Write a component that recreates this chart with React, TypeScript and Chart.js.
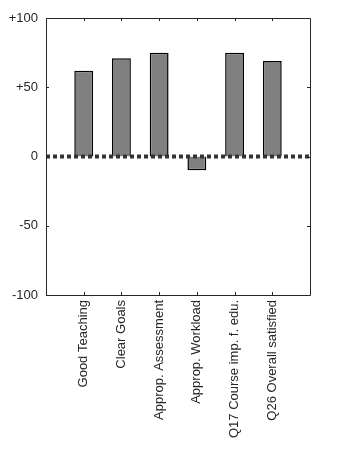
import React, { useEffect, useRef } from "react";
import { Chart, registerables } from "chart.js";

Chart.register(...registerables);

const categories = [
  "",
  "Good Teaching",
  "Clear Goals",
  "Approp. Assessment",
  "Approp. Workload",
  "Q17 Course imp. f. edu.",
  "Q26 Overall satisfied",
  "",
];
const scores: (number | null)[] = [null, 62, 71, 75, -10, 75, 69, null];
const zeroLine = [0, 0, 0, 0, 0, 0, 0, 0];
const yTicks = [-100, -50, 0, 50, 100];
const yTickLabels: Record<string, string> = {
  "-100": "-100",
  "-50": "-50",
  "0": "0",
  "50": "+50",
  "100": "+100",
};

const FONT = "'Liberation Sans', Arial, sans-serif";
const AXIS_COLOR = "#262626";

const framePlugin = {
  id: "frame",
  afterDraw(chart: any) {
    const { ctx, chartArea } = chart;
    const { left, right, top, bottom } = chartArea;
    const xs = chart.scales.x;
    const ys = chart.scales.y;
    ctx.save();
    ctx.strokeStyle = AXIS_COLOR;
    ctx.lineWidth = 1;
    ctx.beginPath();
    ctx.rect(Math.round(left) + 0.5, Math.round(top) + 0.5, Math.round(right - left), Math.round(bottom - top));
    ctx.stroke();
    const tl = 3;
    ctx.beginPath();
    categories.forEach((c, i) => {
      if (!c) return;
      const x = Math.round(xs.getPixelForValue(i)) + 0.5;
      ctx.moveTo(x, bottom);
      ctx.lineTo(x, bottom - tl);
      ctx.moveTo(x, top);
      ctx.lineTo(x, top + tl);
    });
    yTicks.forEach((v) => {
      const y = Math.round(ys.getPixelForValue(v)) + 0.5;
      ctx.moveTo(left, y);
      ctx.lineTo(left + tl, y);
      ctx.moveTo(right, y);
      ctx.lineTo(right - tl, y);
    });
    ctx.stroke();
    ctx.restore();
  },
};

export default function App() {
  const ref = useRef<HTMLCanvasElement>(null);
  useEffect(() => {
    if (!ref.current) return;
    const chart = new Chart(ref.current, {
      type: "bar",
      data: {
        labels: categories,
        datasets: [
          {
            type: "line",
            data: zeroLine,
            borderColor: "#333333",
            borderWidth: 4,
            borderDash: [4, 3],
            pointRadius: 0,
            order: 0,
          } as any,
          {
            type: "bar",
            data: scores,
            backgroundColor: "#808080",
            borderColor: "#000000",
            borderWidth: 1.5,
            barPercentage: 1,
            categoryPercentage: 0.5,
            order: 1,
          } as any,
        ],
      },
      options: {
        responsive: false,
        animation: false,
        events: [],
        layout: { padding: { left: 0, top: 18, right: 44, bottom: 0 } },
        plugins: {
          legend: { display: false },
          tooltip: { enabled: false },
        },
        scales: {
          x: {
            offset: false,
            grid: { display: false, drawTicks: false },
            border: { display: false },
            ticks: {
              autoSkip: false,
              minRotation: 90,
              maxRotation: 90,
              padding: 5,
              color: "#262626",
              font: { family: FONT, size: 13 },
            },
            afterFit(scale: any) {
              scale.height = 177;
            },
          },
          y: {
            min: -100,
            max: 100,
            grid: { display: false, drawTicks: false },
            border: { display: false },
            afterBuildTicks(scale: any) {
              scale.ticks = yTicks.map((v) => ({ value: v }));
            },
            ticks: {
              padding: 8,
              color: "#262626",
              font: { family: FONT, size: 13 },
              callback: (v: any) => yTickLabels[String(v)] ?? String(v),
            },
            afterFit(scale: any) {
              scale.width = 46;
            },
          },
        },
      },
      plugins: [framePlugin],
    });
    return () => chart.destroy();
  }, []);
  return (
    <div style={{ position: "fixed", left: 0, top: 0, width: 354, height: 472, background: "#fff" }}>
      <canvas ref={ref} width={354} height={472} style={{ display: "block" }} />
    </div>
  );
}
